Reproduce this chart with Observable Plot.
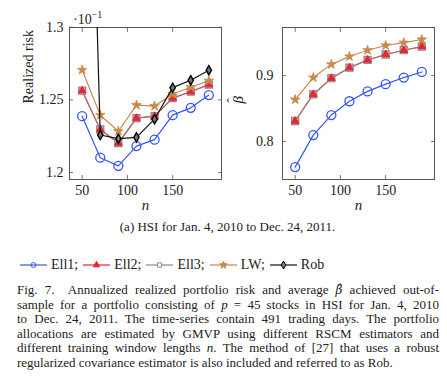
<!DOCTYPE html>
<html>
<head>
<meta charset="utf-8">
<script src="https://cdn.jsdelivr.net/npm/d3@7"></script>
<script src="https://cdn.jsdelivr.net/npm/@observablehq/plot@0.6"></script>
<style>
  html, body { margin: 0; padding: 0; background: #fff; }
  #wrap { position: relative; width: 447px; height: 378px; background: #fff; font-family: 'Liberation Serif', 'DejaVu Serif', serif; color: #222; overflow: hidden; }
  #wrap svg, #wrap svg text { font-family: 'Liberation Serif', 'DejaVu Serif', serif !important; }
  .abs { position: absolute; }
  #sub { left: 0; width: 455px; top: 219px; text-align: center; font-size: 13px; }
  #legend { left: 20px; top: 257px; font-size: 14px; display: flex; align-items: center; white-space: nowrap; }
  #legend .item { display: flex; align-items: center; }
  #legend svg { margin-right: 4px; }
  #legend .lab { margin-right: 5px; }
  #cap { left: 17px; width: 422px; top: 283px; font-size: 13px; line-height: 14.6px; }
  #cap .ln { text-align: justify; text-align-last: justify; white-space: nowrap; }
  #cap .ln.last { text-align-last: left; }
  .mult { left: 73px; top: 9px; font-size: 14px; }
  .bh { font-family: 'DejaVu Serif', serif; font-style: italic; font-size: 12px; }
</style>
</head>
<body>
<div id="wrap">
  <div id="left" class="abs" style="left:0;top:0"></div>
  <div id="right" class="abs" style="left:225px;top:0"></div>
  <div class="abs mult">·10<sup style="font-size:10px">−1</sup></div>
  <div id="sub" class="abs">(a) HSI for Jan. 4, 2010 to Dec. 24, 2011.</div>
  <div id="legend" class="abs"></div>
  <div id="cap" class="abs"></div>
</div>
<script>
// ---- data ----
const nValues = [50, 70, 90, 110, 130, 150, 170, 190];
const xTicks = [50, 100, 150];

const riskEll1 = [1.2388, 1.2102, 1.2046, 1.2182, 1.2226, 1.2395, 1.2445, 1.2533];
const riskEll2 = [1.2563, 1.2296, 1.2203, 1.2374, 1.2388, 1.2512, 1.2556, 1.2605];
const riskEll3 = [1.2563, 1.2296, 1.2203, 1.2374, 1.2388, 1.2512, 1.2556, 1.2605];
const riskLW   = [1.2706, 1.2395, 1.2284, 1.2464, 1.2457, 1.2540, 1.2587, 1.2632];
const riskRob  = [1.66,   1.2258, 1.2233, 1.2242, 1.2367, 1.2584, 1.2635, 1.2704];
const riskTicks = [1.2, 1.25, 1.3];

const betaEll1 = [0.761, 0.8096, 0.840, 0.861, 0.876, 0.887, 0.897, 0.9055];
const betaEll2 = [0.831, 0.8715, 0.896, 0.912, 0.9237, 0.932, 0.9385, 0.944];
const betaEll3 = [0.831, 0.8715, 0.896, 0.912, 0.9237, 0.932, 0.9385, 0.944];
const betaLW   = [0.8635, 0.897, 0.917, 0.929, 0.9385, 0.9457, 0.950, 0.9548];
const betaTicks = [0.8, 0.9];

const seriesNames = ["Ell1", "Ell2", "Ell3", "LW", "Rob"];
const captionLines = [
  `Fig. 7.&nbsp; Annualized realized portfolio risk and average <span class="bh">β\u0302</span> achieved out-of-`,
  "sample for a portfolio consisting of <i>p</i> = 45 stocks in HSI for Jan. 4, 2010",
  "to Dec. 24, 2011. The time-series contain 491 trading days. The portfolio",
  "allocations are estimated by GMVP using different RSCM estimators and",
  "different training window lengths <i>n</i>. The method of [27] that uses a robust",
  "regularized covariance estimator is also included and referred to as Rob."
];

// ---- styles ----
const style = {
  Ell1: {stroke: "#3355ff", symbol: "circle", fill: "none", r: 4.5, sw: 1.3},
  Ell2: {stroke: "#ee2233", symbol: "triangle", fill: "#ee2233", r: 2.8, sw: 1},
  Ell3: {stroke: "#8a8a8a", symbol: "square", fill: "#b4b4b4", r: 4, sw: 1.2},
  LW:   {stroke: "#c8884a", symbol: "star", fill: "#c8884a", r: 3, sw: 0.8},
  Rob:  {stroke: "#000", symbol: "diamond", fill: "#777", r: 2.8, sw: 1.4}
};
const lineColor = {Ell1: "#3355ff", Ell2: "#ee2233", Ell3: "#8a8a8a", LW: "#c8884a", Rob: "#111"};
const lineOpacity = {Ell1: 1, Ell2: 1, Ell3: 0.7, LW: 1, Rob: 1};

function rows(name, vals) { return nValues.map((n, i) => ({n, v: vals[i], s: name})); }

function lineMark(name, vals) {
  return Plot.line(rows(name, vals), {x: "n", y: "v", stroke: lineColor[name], strokeWidth: 1.2, strokeOpacity: lineOpacity[name], clip: true});
}
function dotMark(name, vals) {
  const st = style[name];
  return Plot.dot(rows(name, vals), {x: "n", y: "v", symbol: st.symbol, r: st.r, stroke: st.stroke, fill: st.fill, strokeWidth: st.sw, clip: true});
}

function axes(yTicks, yFmt, padL) {
  const tc = "#777";
  return [
    Plot.axisX({anchor: "bottom", ticks: xTicks, tickSize: -4, tickPadding: 10, stroke: tc, fill: "#222", label: null, tickFormat: d3.format("d")}),
    Plot.axisX({anchor: "top", ticks: xTicks, tickSize: -4, stroke: tc, fill: "none", label: null}),
    Plot.axisY({anchor: "left", ticks: yTicks, tickSize: -4, tickPadding: padL, stroke: tc, fill: "#222", label: null, tickFormat: yFmt}),
    Plot.axisY({anchor: "right", ticks: yTicks, tickSize: -4, stroke: tc, fill: "none", label: null}),
    Plot.frame({stroke: "#555", strokeWidth: 1})
  ];
}

const common = {
  height: 215, marginTop: 27, marginBottom: 36,
  style: {fontFamily: "'Liberation Serif', serif", fontSize: "14px", background: "transparent", color: "#222"}
};

const left = Plot.plot({
  ...common,
  width: 225, marginLeft: 69, marginRight: 4,
  x: {domain: [36, 204], label: null},
  y: {domain: [1.1952, 1.2998], label: null},
  marks: [
    ...axes(riskTicks, d => d === 1.25 ? "1.25" : d.toFixed(1), 10),
    lineMark("Ell1", riskEll1), dotMark("Ell1", riskEll1),
    lineMark("Ell2", riskEll2), lineMark("Ell3", riskEll3),
    dotMark("Ell3", riskEll3), dotMark("Ell2", riskEll2),
    lineMark("LW", riskLW), dotMark("LW", riskLW),
    lineMark("Rob", riskRob), dotMark("Rob", riskRob),
    Plot.text(["n"], {frameAnchor: "bottom", dy: 30, fontStyle: "italic", fontSize: 15, fill: "#222"}),
    Plot.text(["Realized risk"], {frameAnchor: "left", dx: -41, rotate: -90, fontSize: 14, fill: "#222"})
  ]
});

const right = Plot.plot({
  ...common,
  width: 222, marginLeft: 57, marginRight: 13,
  x: {domain: [36, 204], label: null},
  y: {domain: [0.7422, 0.973], label: null},
  marks: [
    ...axes(betaTicks, d => d.toFixed(1), 13),
    lineMark("Ell1", betaEll1), dotMark("Ell1", betaEll1),
    lineMark("Ell2", betaEll2), lineMark("Ell3", betaEll3),
    dotMark("Ell3", betaEll3), dotMark("Ell2", betaEll2),
    lineMark("LW", betaLW), dotMark("LW", betaLW),
    Plot.text(["n"], {frameAnchor: "bottom", dy: 30, fontStyle: "italic", fontSize: 15, fill: "#222"}),
    Plot.text(["β"], {frameAnchor: "left", dx: -44, rotate: -90, fontStyle: "italic", fontSize: 15, fill: "#222"}),
    Plot.text(["ˆ"], {frameAnchor: "left", dx: -51, dy: -1, rotate: -90, fontSize: 13, fill: "#222"})
  ]
});

document.getElementById("left").appendChild(left);
document.getElementById("right").appendChild(right);

// ---- legend ----
const symbolMap = {circle: d3.symbolCircle, triangle: d3.symbolTriangle, square: d3.symbolSquare, star: d3.symbolStar, diamond: d3.symbolDiamond};
const leg = document.getElementById("legend");
seriesNames.forEach((name, i) => {
  const st = style[name];
  const item = document.createElement("span");
  item.className = "item";
  const w = 27, h = 12;
  const rr = 2.4;
  const sym = d3.symbol(symbolMap[st.symbol], Math.PI * rr * rr)();
  item.innerHTML = `<svg width="${w}" height="${h}" viewBox="0 0 ${w} ${h}">
    <line x1="0" x2="${w}" y1="${h/2}" y2="${h/2}" stroke="${lineColor[name]}" stroke-width="1.2"/>
    <path d="${sym}" transform="translate(${w/2},${h/2})" stroke="${st.stroke}" fill="${name === "Ell3" ? "#fff" : st.fill}" stroke-width="1"/>
  </svg><span class="lab">${name}${i < seriesNames.length - 1 ? ";" : ""}</span>`;
  leg.appendChild(item);
});

// ---- caption ----
const cap = document.getElementById("cap");
captionLines.forEach((t, i) => {
  const div = document.createElement("div");
  div.className = "ln" + (i === captionLines.length - 1 ? " last" : "");
  div.innerHTML = t;
  cap.appendChild(div);
});
</script>
</body>
</html>
